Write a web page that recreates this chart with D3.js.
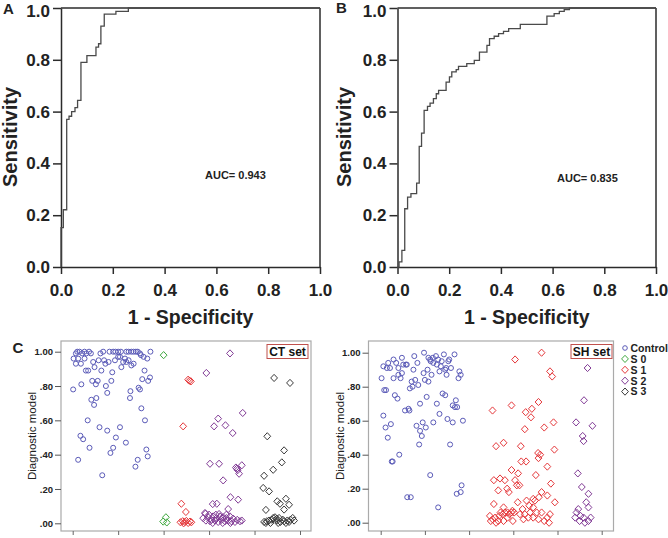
<!DOCTYPE html>
<html><head><meta charset="utf-8">
<script src="https://cdn.jsdelivr.net/npm/d3@7"></script>
<style>
html,body{margin:0;padding:0;background:#fff;}
svg{display:block;font-family:"Liberation Sans",Arial,sans-serif;}
</style></head>
<body>
<svg id="chart" width="668" height="538"></svg>
<script>
// ---------------- DATA ----------------
const rocTicks = [0, 0.2, 0.4, 0.6, 0.8, 1.0];
const rocA_fpr = [0, 0, 0.009, 0.022, 0.031, 0.041, 0.054, 0.064, 0.077, 0.10, 0.135, 0.145, 0.154, 0.167, 0.212, 0.26, 1.0];
const rocA_tpr = [0, 0.152, 0.221, 0.570, 0.582, 0.60, 0.615, 0.643, 0.79, 0.816, 0.849, 0.862, 0.93, 0.976, 0.987, 1.0, 1.0];
const rocB_fpr = [0, 0.006, 0.017, 0.028, 0.039, 0.052, 0.074, 0.084, 0.093, 0.103, 0.116, 0.126, 0.139, 0.150, 0.159, 0.188, 0.201, 0.210, 0.227, 0.236, 0.268, 0.297, 0.317, 0.346, 0.356, 0.374, 0.391, 0.410, 0.430, 0.475, 0.578, 0.606, 0.626, 0.645, 0.665, 1.0];
const rocB_tpr = [0, 0.02, 0.064, 0.225, 0.27, 0.283, 0.324, 0.466, 0.517, 0.605, 0.620, 0.633, 0.650, 0.669, 0.682, 0.714, 0.734, 0.753, 0.762, 0.775, 0.785, 0.798, 0.830, 0.856, 0.882, 0.891, 0.901, 0.910, 0.920, 0.937, 0.969, 0.978, 0.987, 0.994, 1.0, 1.0];
const aucLabels = ["AUC= 0.943", "AUC= 0.835"];

const dotTicks = [0, 0.2, 0.4, 0.6, 0.8, 1.0];
const dotTickLabels = [".00", ".20", ".40", ".60", ".80", "1.00"];
const groupNames = ["Control", "S 0", "S 1", "S 2", "S 3"];
const groupColors = ["#5b5bb8", "#3ea83e", "#e5383b", "#823c96", "#3a3a3a"];

const ctControl = [[0.07,0.99],[0.10,1.00],[0.15,1.00],[0.21,0.99],[0.26,1.00],[0.30,0.99],[0.36,1.00],[0.40,0.99],[0.61,0.99],[0.67,1.00],[0.81,1.00],[0.89,1.00],[0.94,1.00],[1.00,1.00],[1.06,1.00],[1.18,1.00],[1.23,1.00],[1.29,1.00],[1.34,1.00],[1.39,1.00],[1.43,1.00],[1.50,0.98],[1.56,0.97],[1.64,0.96],[1.71,1.00],
[0.02,0.96],[0.07,0.93],[0.12,0.96],[0.18,0.93],[0.26,0.96],[0.45,0.94],[0.48,0.91],[0.57,0.95],[0.63,0.89],[0.69,0.95],[0.72,0.93],[0.79,0.94],[0.93,0.95],[1.00,0.97],[1.04,0.97],[1.07,0.91],[1.11,0.94],[1.15,0.96],[1.18,0.94],[1.23,0.95],[1.29,0.92],[1.34,0.93],[1.48,0.99],[1.58,0.89],[1.53,0.84],[1.66,0.83],[1.70,0.85],
[0.29,0.89],[0.34,0.89],[0.43,0.83],[0.51,0.81],[0.55,0.83],[0.73,0.80],[0.85,0.83],[0.87,0.88],[0.01,0.78],[0.19,0.81],[0.76,0.76],[1.27,0.77],[1.45,0.79],[1.48,0.78],[1.26,0.73],[0.41,0.72],[0.52,0.73],[0.47,0.69],[1.51,0.67],[0.33,0.60],[1.59,0.60],[0.59,0.56],[0.76,0.54],[1.04,0.56],[0.95,0.50],[0.17,0.51],[0.23,0.49],[1.17,0.47],[0.89,0.44],[0.37,0.44],[0.83,0.41],[1.62,0.43],[1.65,0.39],[0.12,0.37],[1.43,0.37],[1.38,0.33],[0.65,0.28]];
const ctS0 = [[2.00,0.98],[2.05,0.035],[1.99,0.01],[2.07,0.005]];
const ctS1 = [[2.54,0.837],[2.57,0.831],[2.60,0.827],[2.43,0.565],[2.39,0.114],[2.49,0.066],
[2.37,0.006],[2.42,0.012],[2.44,0.0],[2.47,0.008],[2.50,0.014],[2.54,0.002],[2.58,0.01],[2.61,0.006]];
const ctS2 = [[3.46,0.99],[2.94,0.876],[3.74,0.643],[3.20,0.61],[3.11,0.565],[3.36,0.571],[3.52,0.526],[3.02,0.347],[3.22,0.347],[3.59,0.325],[3.61,0.318],[3.63,0.31],[3.72,0.338],[3.66,0.289],[3.31,0.25],[3.47,0.152],[3.64,0.138],[3.08,0.112],[3.17,0.114],[3.42,0.083],[2.92,0.056],
[2.87,0.03],[2.93,0.016],[2.98,0.035],[3.02,0.012],[3.05,0.02],[3.09,0.04],[3.13,0.016],[3.16,0.03],[3.20,0.008],[3.24,0.04],[3.27,0.02],[3.31,0.035],[3.35,0.012],[3.38,0.03],[3.42,0.016],[3.46,0.04],[3.49,0.012],[3.53,0.027],[3.57,0.008],[3.62,0.02],[3.68,0.012],[3.72,0.016],[3.00,0.05],[3.22,0.054],[3.38,0.05],[2.91,0.06],[3.08,0.002],[3.30,0.002],[3.47,0.002],[3.15,0.05]];
const ctS3 = [[4.43,0.847],[4.78,0.818],[4.28,0.507],[4.65,0.425],[4.60,0.355],[4.41,0.312],[4.21,0.277],[4.19,0.206],[4.32,0.186],[4.69,0.143],[4.50,0.128],[4.56,0.114],[4.76,0.108],[4.65,0.08],[4.25,0.078],
[4.21,0.008],[4.27,0.012],[4.32,0.016],[4.38,0.021],[4.41,0.031],[4.45,0.035],[4.49,0.027],[4.50,0.016],[4.54,0.031],[4.57,0.008],[4.62,0.021],[4.65,0.012],[4.69,0.002],[4.72,0.016],[4.76,0.008],[4.79,0.021],[4.84,0.031],[4.87,0.016],[4.35,0.002],[4.52,0.002],[4.25,0.002]];

const shControl = [[0.98,1.00],[0.76,0.98],[0.48,0.97],[0.29,0.96],[0.17,0.94],[0.06,0.92],[0.14,0.91],[0.21,0.91],[0.35,0.94],[0.40,0.91],[0.51,0.93],[0.57,0.93],[0.59,0.93],[0.83,0.94],[0.74,0.90],[1.08,0.97],[1.12,0.96],[1.18,0.97],[1.25,0.98],[1.30,0.96],[1.38,0.95],[1.43,0.99],[1.55,0.96],[1.53,0.95],[1.67,0.99],[1.59,0.91],[1.48,0.91],[1.36,0.92],[1.27,0.93],[1.19,0.94],[1.13,0.95],[1.06,0.90],[0.97,0.88],[1.15,0.87],[1.33,0.89],[1.46,0.90],[1.49,0.87],[1.78,0.89],[1.81,0.87],[1.76,0.85],
[0.02,0.85],[0.29,0.85],[0.40,0.87],[0.45,0.85],[0.48,0.88],[0.08,0.78],[0.12,0.78],[0.32,0.75],[0.38,0.73],[0.66,0.79],[0.72,0.80],[0.70,0.83],[0.78,0.84],[0.85,0.81],[1.00,0.84],[1.08,0.83],[1.40,0.76],[1.46,0.75],[1.70,0.72],[1.63,0.69],[1.68,0.68],[1.73,0.68],[0.89,0.70],[1.04,0.74],[1.27,0.70],[0.55,0.66],[0.63,0.67],[0.65,0.66],[1.33,0.64],[0.06,0.63],[0.23,0.58],[0.11,0.56],[0.16,0.50],
[0.95,0.59],[0.81,0.57],[1.02,0.56],[0.89,0.54],[0.93,0.51],[0.87,0.46],[1.19,0.59],[1.51,0.61],[1.63,0.59],[1.86,0.60],[1.57,0.46],[0.42,0.40],[0.25,0.36],[0.27,0.36],[1.12,0.28],[1.83,0.22],[1.81,0.18],[1.72,0.17],[0.60,0.15],[0.68,0.15],[1.30,0.09]];
const shS1 = [[3.64,1.00],[3.04,0.96],[3.83,0.89],[3.88,0.86],[2.53,0.66],[2.96,0.69],[3.28,0.65],[3.42,0.67],[3.57,0.71],[3.40,0.62],[3.26,0.55],[3.70,0.56],[3.91,0.59],[2.61,0.45],[2.78,0.47],[3.17,0.45],[3.56,0.41],[3.61,0.40],[3.18,0.36],[3.29,0.36],[3.57,0.38],[3.93,0.43],[3.77,0.33],[2.96,0.31],[3.11,0.29],[3.51,0.28],[2.56,0.25],[2.70,0.26],[2.81,0.25],[3.04,0.25],[3.08,0.22],[3.14,0.22],[3.85,0.23],[2.66,0.19],[2.86,0.20],[2.90,0.18],[3.64,0.18],[3.77,0.16],[3.58,0.15],[3.45,0.14],[3.49,0.13],[3.94,0.12],[2.56,0.11],[2.78,0.09],[3.10,0.12],[3.30,0.13],[3.36,0.10],[3.45,0.09],[3.21,0.08],[2.98,0.07],
[2.47,0.04],[2.53,0.02],[2.59,0.03],[2.66,0.01],[2.71,0.06],[2.76,0.05],[2.81,0.06],[2.87,0.06],[2.91,0.05],[2.96,0.06],[3.02,0.06],[2.78,0.01],[2.49,0.01],[2.99,0.01],[3.23,0.02],[3.34,0.03],[3.38,0.06],[3.45,0.03],[3.53,0.06],[3.64,0.06],[3.70,0.01],[3.77,0.03],[3.83,0.05],[3.81,0.00],[3.15,0.05],[2.68,0.04],[2.61,0.00],[2.87,0.03],[3.26,0.05],[3.57,0.02]];
const shS2 = [[4.68,0.91],[4.60,0.72],[4.42,0.59],[4.79,0.57],[4.57,0.51],[4.59,0.48],[4.46,0.29],[4.55,0.21],[4.70,0.17],[4.65,0.12],[4.70,0.09],[4.47,0.08],[4.43,0.06],[4.40,0.03],[4.50,0.01],[4.59,0.03],[4.62,0.00],[4.70,0.01],[4.75,0.03],[4.52,0.04]];

// ---------------- DRAW ----------------
const svg = d3.select("#chart");
const FONT = '"Liberation Sans",Arial,sans-serif';
const AX = "#2b2b2b";

function roc(cfg) {
  const x = d3.scaleLinear().domain([0,1]).range([cfg.left, cfg.right]);
  const y = d3.scaleLinear().domain([0,1]).range([cfg.bottom, cfg.top]);
  const g = svg.append("g");
  g.append("line").attr("x1", cfg.left).attr("x2", cfg.right).attr("y1", cfg.top).attr("y2", cfg.top).attr("stroke", AX).attr("stroke-width", 1.5);
  g.append("line").attr("x1", cfg.right).attr("x2", cfg.right).attr("y1", cfg.top).attr("y2", cfg.bottom).attr("stroke", AX).attr("stroke-width", 1.5);
  const xa = g.append("g").attr("transform", `translate(0,${cfg.bottom})`)
    .call(d3.axisBottom(x).tickValues(rocTicks).tickFormat(d3.format(".1f")).tickSize(7).tickPadding(6).tickSizeOuter(0));
  const ya = g.append("g").attr("transform", `translate(${cfg.left},0)`)
    .call(d3.axisLeft(y).tickValues(rocTicks).tickFormat(d3.format(".1f")).tickSize(8).tickPadding(3).tickSizeOuter(0));
  [xa, ya].forEach(a => {
    a.select(".domain").attr("stroke", AX).attr("stroke-width", 1.5);
    a.selectAll(".tick line").attr("stroke", AX).attr("stroke-width", 1.5);
    a.selectAll("text").attr("font-family", FONT).attr("font-size", "17px").attr("font-weight", "bold").attr("fill", "#222");
  });
  xa.selectAll("text").attr("dy", "0.95em");
  ya.selectAll(".tick").filter(d => d === 1).select("text").attr("dy", "0.5em");
  const pts = cfg.fpr.map((f, i) => [f, cfg.tpr[i]]);
  g.append("path").datum(pts)
    .attr("d", d3.line().x(d => x(d[0])).y(d => y(d[1])).curve(d3.curveStepAfter))
    .attr("fill", "none").attr("stroke", "#4a4a4a").attr("stroke-width", 1.3);
  g.append("text").attr("x", cfg.aucX).attr("y", cfg.aucY).text(cfg.auc)
    .attr("font-family", FONT).attr("font-size", "11px").attr("font-weight", "bold").attr("fill", "#222");
  g.append("text").attr("x", (cfg.left + cfg.right) / 2).attr("y", 324).attr("text-anchor", "middle")
    .text("1 - Specificity").attr("font-family", FONT).attr("font-size", "19.5px").attr("font-weight", "bold").attr("fill", "#222");
  g.append("text").attr("transform", `translate(${cfg.ylabX},137) rotate(-90)`).attr("text-anchor", "middle")
    .text("Sensitivity").attr("font-family", FONT).attr("font-size", "20px").attr("font-weight", "bold").attr("fill", "#222");
  g.append("text").attr("x", cfg.panelX).attr("y", cfg.panelY).text(cfg.panel)
    .attr("font-family", FONT).attr("font-size", "15px").attr("font-weight", "bold").attr("fill", "#222");
}

roc({left: 61, right: 320, top: 8, bottom: 267, fpr: rocA_fpr, tpr: rocA_tpr, auc: aucLabels[0], aucX: 205, aucY: 179, ylabX: 17, panel: "A", panelX: 3, panelY: 14});
roc({left: 397.5, right: 656, top: 8, bottom: 267, fpr: rocB_fpr, tpr: rocB_tpr, auc: aucLabels[1], aucX: 557, aucY: 182, ylabX: 351, panel: "B", panelX: 336, panelY: 13});

const diamond = "M0,-3.6L3.4,0L0,3.6L-3.4,0Z";

function dots(cfg) {
  const x = d3.scaleLinear().domain([0,5]).range([cfg.x0, cfg.x1]);
  const y = d3.scaleLinear().domain([0,1]).range([cfg.y0, cfg.y1]);
  const g = svg.append("g");
  g.append("rect").attr("x", cfg.fl).attr("y", cfg.ft).attr("width", cfg.fr - cfg.fl).attr("height", cfg.fb - cfg.ft)
    .attr("fill", "#fff").attr("stroke", "#aaaaaa").attr("stroke-width", 1.2);
  const ya = g.append("g").attr("transform", `translate(${cfg.fl},0)`)
    .call(d3.axisLeft(y).tickValues(dotTicks).tickFormat((d, i) => dotTickLabels[i]).tickSize(6).tickPadding(2).tickSizeOuter(0));
  ya.select(".domain").remove();
  ya.selectAll(".tick line").attr("stroke", "#555");
  ya.selectAll("text").attr("font-family", FONT).attr("font-size", "9.5px").attr("font-weight", "bold").attr("fill", "#222");
  const xa = g.append("g").attr("transform", `translate(0,${cfg.fb})`)
    .call(d3.axisBottom(x).tickValues([0,1,2,3,4,5]).tickFormat("").tickSize(4).tickSizeOuter(0));
  xa.select(".domain").remove();
  xa.selectAll(".tick line").attr("stroke", "#666");
  g.append("text").attr("transform", `translate(${cfg.ylabX},${(cfg.ft + cfg.fb) / 2}) rotate(-90)`).attr("text-anchor", "middle")
    .text("Diagnostic model").attr("font-family", FONT).attr("font-size", "11.5px").attr("fill", "#222");
  cfg.groups.forEach(gr => {
    const col = groupColors[gr.idx];
    if (gr.idx === 0) {
      g.append("g").selectAll("circle").data(gr.data).join("circle")
        .attr("cx", d => x(d[0])).attr("cy", d => y(d[1])).attr("r", 2.5)
        .attr("fill", "none").attr("stroke", col).attr("stroke-width", 1);
    } else {
      g.append("g").selectAll("path").data(gr.data).join("path")
        .attr("d", diamond).attr("transform", d => `translate(${x(d[0])},${y(d[1])})`)
        .attr("fill", "none").attr("stroke", col).attr("stroke-width", 1);
    }
  });
  g.append("rect").attr("x", cfg.bx).attr("y", 344.5).attr("width", 41).attr("height", 14)
    .attr("fill", "#fff").attr("stroke", "#c0504d").attr("stroke-width", 1);
  g.append("text").attr("x", cfg.bx + 20.5).attr("y", 355.5).attr("text-anchor", "middle").text(cfg.label)
    .attr("font-family", FONT).attr("font-size", "12px").attr("font-weight", "bold").attr("fill", "#111");
}

dots({fl: 61, fr: 311, ft: 341, fb: 531, x0: 72.7, x1: 300, y0: 523.3, y1: 351.7, ylabX: 36, bx: 267, label: "CT set",
  groups: [{idx: 0, data: ctControl}, {idx: 1, data: ctS0}, {idx: 2, data: ctS1}, {idx: 3, data: ctS2}, {idx: 4, data: ctS3}]});
dots({fl: 368.5, fr: 613.5, ft: 341, fb: 531, x0: 380.7, x1: 601.7, y0: 522.7, y1: 352.7, ylabX: 344, bx: 571, label: "SH set",
  groups: [{idx: 0, data: shControl}, {idx: 2, data: shS1}, {idx: 3, data: shS2}]});

svg.append("text").attr("x", 12.5).attr("y", 352.5).text("C")
  .attr("font-family", FONT).attr("font-size", "15px").attr("font-weight", "bold").attr("fill", "#222");

const leg = svg.append("g");
groupNames.forEach((n, i) => {
  const yy = 348 + i * 10.9;
  if (i === 0) {
    leg.append("circle").attr("cx", 625).attr("cy", yy).attr("r", 2.3).attr("fill", "none").attr("stroke", groupColors[i]).attr("stroke-width", 1);
  } else {
    leg.append("path").attr("d", diamond).attr("transform", `translate(625,${yy})`).attr("fill", "none").attr("stroke", groupColors[i]).attr("stroke-width", 1);
  }
  leg.append("text").attr("x", 630.5).attr("y", yy + 3.8).text(n)
    .attr("font-family", FONT).attr("font-size", "10.5px").attr("font-weight", "bold").attr("fill", "#222");
});
</script>
</body></html>
